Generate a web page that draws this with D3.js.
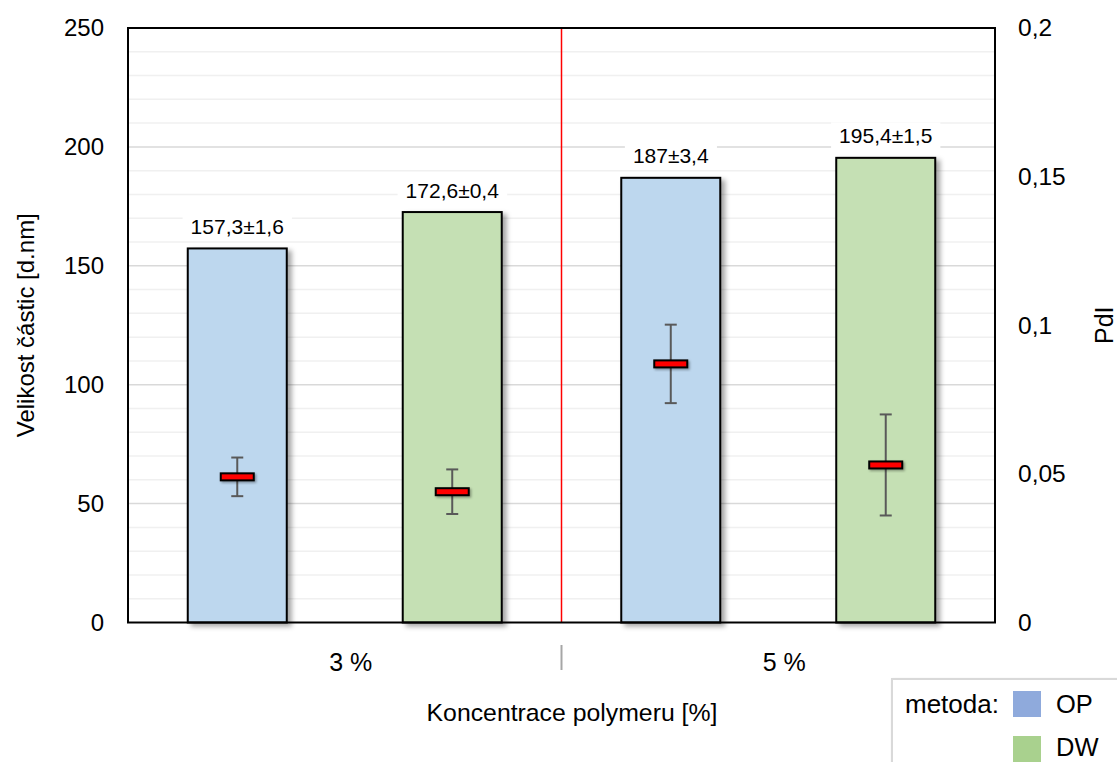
<!DOCTYPE html>
<html>
<head>
<meta charset="utf-8">
<script src="https://cdn.jsdelivr.net/npm/d3@7"></script>
<style>
  html, body { margin: 0; padding: 0; background: #fff; }
  svg { display: block; font-family: "Liberation Sans", Arial, sans-serif; }
</style>
</head>
<body>
<svg id="chart" width="1117" height="762"></svg>
<script>
// Particle size (bars) and PdI (markers) by polymer concentration and method
const categories = ["3 %", "5 %"];
const methods = ["OP", "DW"];
const sizeOP = [157.3, 187];
const sizeErrOP = [1.6, 3.4];
const sizeDW = [172.6, 195.4];
const sizeErrDW = [0.4, 1.5];
const pdiOP = [0.049, 0.087];
const pdiErrOP = [0.0065, 0.0132];
const pdiDW = [0.044, 0.053];
const pdiErrDW = [0.0075, 0.017];
const sizeTicks = [0, 50, 100, 150, 200, 250];
const pdiTicks = [0, 0.05, 0.1, 0.15, 0.2];

const barFill = { OP: "#BDD7EE", DW: "#C5E0B4" };
const legendFill = { OP: "#8FAADC", DW: "#A9D18E" };

const rows = [];
categories.forEach((c, i) => {
  rows.push({ cat: c, method: "OP", size: sizeOP[i], sizeErr: sizeErrOP[i], pdi: pdiOP[i], pdiErr: pdiErrOP[i] });
  rows.push({ cat: c, method: "DW", size: sizeDW[i], sizeErr: sizeErrDW[i], pdi: pdiDW[i], pdiErr: pdiErrDW[i] });
});

const fmt = v => String(v).replace(".", ",");

const plotL = 128, plotR = 995, plotT = 28, plotB = 622.5;
const svg = d3.select("#chart");

const defs = svg.append("defs");
const sh = defs.append("filter").attr("id", "shadow").attr("x", "-20%").attr("y", "-20%").attr("width", "150%").attr("height", "150%");
sh.append("feDropShadow").attr("dx", 4).attr("dy", 3).attr("stdDeviation", 2.8)
  .attr("flood-color", "#000").attr("flood-opacity", 0.35);
const sh2 = defs.append("filter").attr("id", "shadowSmall").attr("x", "-30%").attr("y", "-60%").attr("width", "160%").attr("height", "220%");
sh2.append("feDropShadow").attr("dx", 1.5).attr("dy", 1.5).attr("stdDeviation", 1)
  .attr("flood-color", "#000").attr("flood-opacity", 0.35);

const y = d3.scaleLinear().domain([0, 250]).range([plotB, plotT]);
const y2 = d3.scaleLinear().domain([0, 0.2]).range([plotB, plotT]);
const x0 = d3.scaleBand().domain(categories).range([plotL, plotR]).padding(0);
const x1 = d3.scaleBand().domain(methods).range([0, x0.bandwidth()])
  .paddingInner(0.5395).paddingOuter(0.278);

// gridlines: minor every 10, major every 50
const gridVals = d3.range(10, 250, 10);
svg.append("g").selectAll("line").data(gridVals).join("line")
  .attr("x1", plotL).attr("x2", plotR)
  .attr("y1", d => y(d)).attr("y2", d => y(d))
  .attr("stroke", d => d % 50 === 0 ? "#D9D9D9" : "#F0F0F0")
  .attr("stroke-width", 1.5);

// separator between concentrations
svg.append("line")
  .attr("x1", x0("5 %")).attr("x2", x0("5 %"))
  .attr("y1", plotT).attr("y2", plotB)
  .attr("stroke", "#FF0000").attr("stroke-width", 1.5);

// bars
const groups = svg.append("g").selectAll("g").data(rows).join("g")
  .attr("transform", d => `translate(${x0(d.cat)},0)`);

groups.append("rect")
  .attr("x", d => x1(d.method))
  .attr("y", d => y(d.size))
  .attr("width", x1.bandwidth())
  .attr("height", d => y(0) - y(d.size))
  .attr("fill", d => barFill[d.method])
  .attr("stroke", "#000").attr("stroke-width", 2)
  .attr("filter", "url(#shadow)");

// value labels with white background
groups.each(function(d) {
  const g = d3.select(this);
  const cx = x1(d.method) + x1.bandwidth() / 2;
  const ty = y(d.size) - 22;
  const bg = g.append("rect").attr("fill", "#fff");
  const t = g.append("text")
    .attr("x", cx).attr("y", ty)
    .attr("text-anchor", "middle").attr("dominant-baseline", "central")
    .attr("font-size", 21).attr("fill", "#000")
    .text(`${fmt(d.size)}±${fmt(d.sizeErr)}`);
  const bb = t.node().getBBox();
  bg.attr("x", bb.x - 8).attr("y", bb.y - 2).attr("width", bb.width + 16).attr("height", bb.height + 4);
});

// PdI error bars
groups.each(function(d) {
  const g = d3.select(this);
  const cx = x1(d.method) + x1.bandwidth() / 2;
  const yt = y2(d.pdi + d.pdiErr), yb = y2(d.pdi - d.pdiErr);
  const col = "#595959";
  g.append("line").attr("x1", cx).attr("x2", cx).attr("y1", yt).attr("y2", yb).attr("stroke", col).attr("stroke-width", 2);
  g.append("line").attr("x1", cx - 6).attr("x2", cx + 6).attr("y1", yt).attr("y2", yt).attr("stroke", col).attr("stroke-width", 2);
  g.append("line").attr("x1", cx - 6).attr("x2", cx + 6).attr("y1", yb).attr("y2", yb).attr("stroke", col).attr("stroke-width", 2);
  g.append("rect")
    .attr("x", cx - 16.5).attr("y", y2(d.pdi) - 3.5)
    .attr("width", 33).attr("height", 7)
    .attr("fill", "#FF0000").attr("stroke", "#000").attr("stroke-width", 2)
    .attr("filter", "url(#shadowSmall)");
});

// plot frame
svg.append("rect")
  .attr("x", plotL).attr("y", plotT).attr("width", plotR - plotL).attr("height", plotB - plotT)
  .attr("fill", "none").attr("stroke", "#000").attr("stroke-width", 2);

// left axis
const yAxis = d3.axisLeft(y).tickValues(sizeTicks).tickSize(0).tickPadding(24);
const gy = svg.append("g").attr("transform", `translate(${plotL},0)`).call(yAxis);
gy.select(".domain").remove();
gy.selectAll("text").attr("font-size", 24).attr("fill", "#000").attr("font-family", "Liberation Sans, Arial, sans-serif");

// right axis
const y2Axis = d3.axisRight(y2).tickValues(pdiTicks).tickSize(0).tickPadding(23).tickFormat(d => fmt(d));
const gy2 = svg.append("g").attr("transform", `translate(${plotR},0)`).call(y2Axis);
gy2.select(".domain").remove();
gy2.selectAll("text").attr("font-size", 24.5).attr("fill", "#000").attr("font-family", "Liberation Sans, Arial, sans-serif");

// category axis
svg.append("g").selectAll("text").data(categories).join("text")
  .attr("x", d => x0(d) + x0.bandwidth() / 2 + 6).attr("y", 662)
  .attr("text-anchor", "middle").attr("dominant-baseline", "central")
  .attr("font-size", 25).attr("fill", "#000").text(d => d);
svg.append("line")
  .attr("x1", x0("5 %")).attr("x2", x0("5 %")).attr("y1", 645).attr("y2", 670)
  .attr("stroke", "#A6A6A6").attr("stroke-width", 2);

// axis titles
svg.append("text")
  .attr("x", 572).attr("y", 712)
  .attr("text-anchor", "middle").attr("dominant-baseline", "central")
  .attr("font-size", 24.8).attr("fill", "#000").text("Koncentrace polymeru [%]");
svg.append("text")
  .attr("transform", `translate(25,${(plotT + plotB) / 2}) rotate(-90)`)
  .attr("text-anchor", "middle").attr("dominant-baseline", "central")
  .attr("font-size", 24).attr("fill", "#000").text("Velikost částic [d.nm]");
svg.append("text")
  .attr("transform", `translate(1104,${(plotT + plotB) / 2}) rotate(-90)`)
  .attr("text-anchor", "middle").attr("dominant-baseline", "central")
  .attr("font-size", 25).attr("fill", "#000").text("PdI");

// legend
const lg = svg.append("g");
lg.append("rect").attr("x", 892).attr("y", 679).attr("width", 260).attr("height", 120)
  .attr("fill", "#fff").attr("stroke", "#D9D9D9").attr("stroke-width", 2).attr("filter", "url(#shadowSmall)");
lg.append("text").attr("x", 905).attr("y", 704).attr("dominant-baseline", "central")
  .attr("font-size", 26).attr("fill", "#000").text("metoda:");
methods.forEach((m, i) => {
  lg.append("rect").attr("x", 1013).attr("y", 691 + i * 45).attr("width", 28).attr("height", 26).attr("fill", legendFill[m]);
  lg.append("text").attr("x", 1056).attr("y", 704 + i * 43).attr("dominant-baseline", "central")
    .attr("font-size", 25.5).attr("fill", "#000").text(m);
});
</script>
</body>
</html>
